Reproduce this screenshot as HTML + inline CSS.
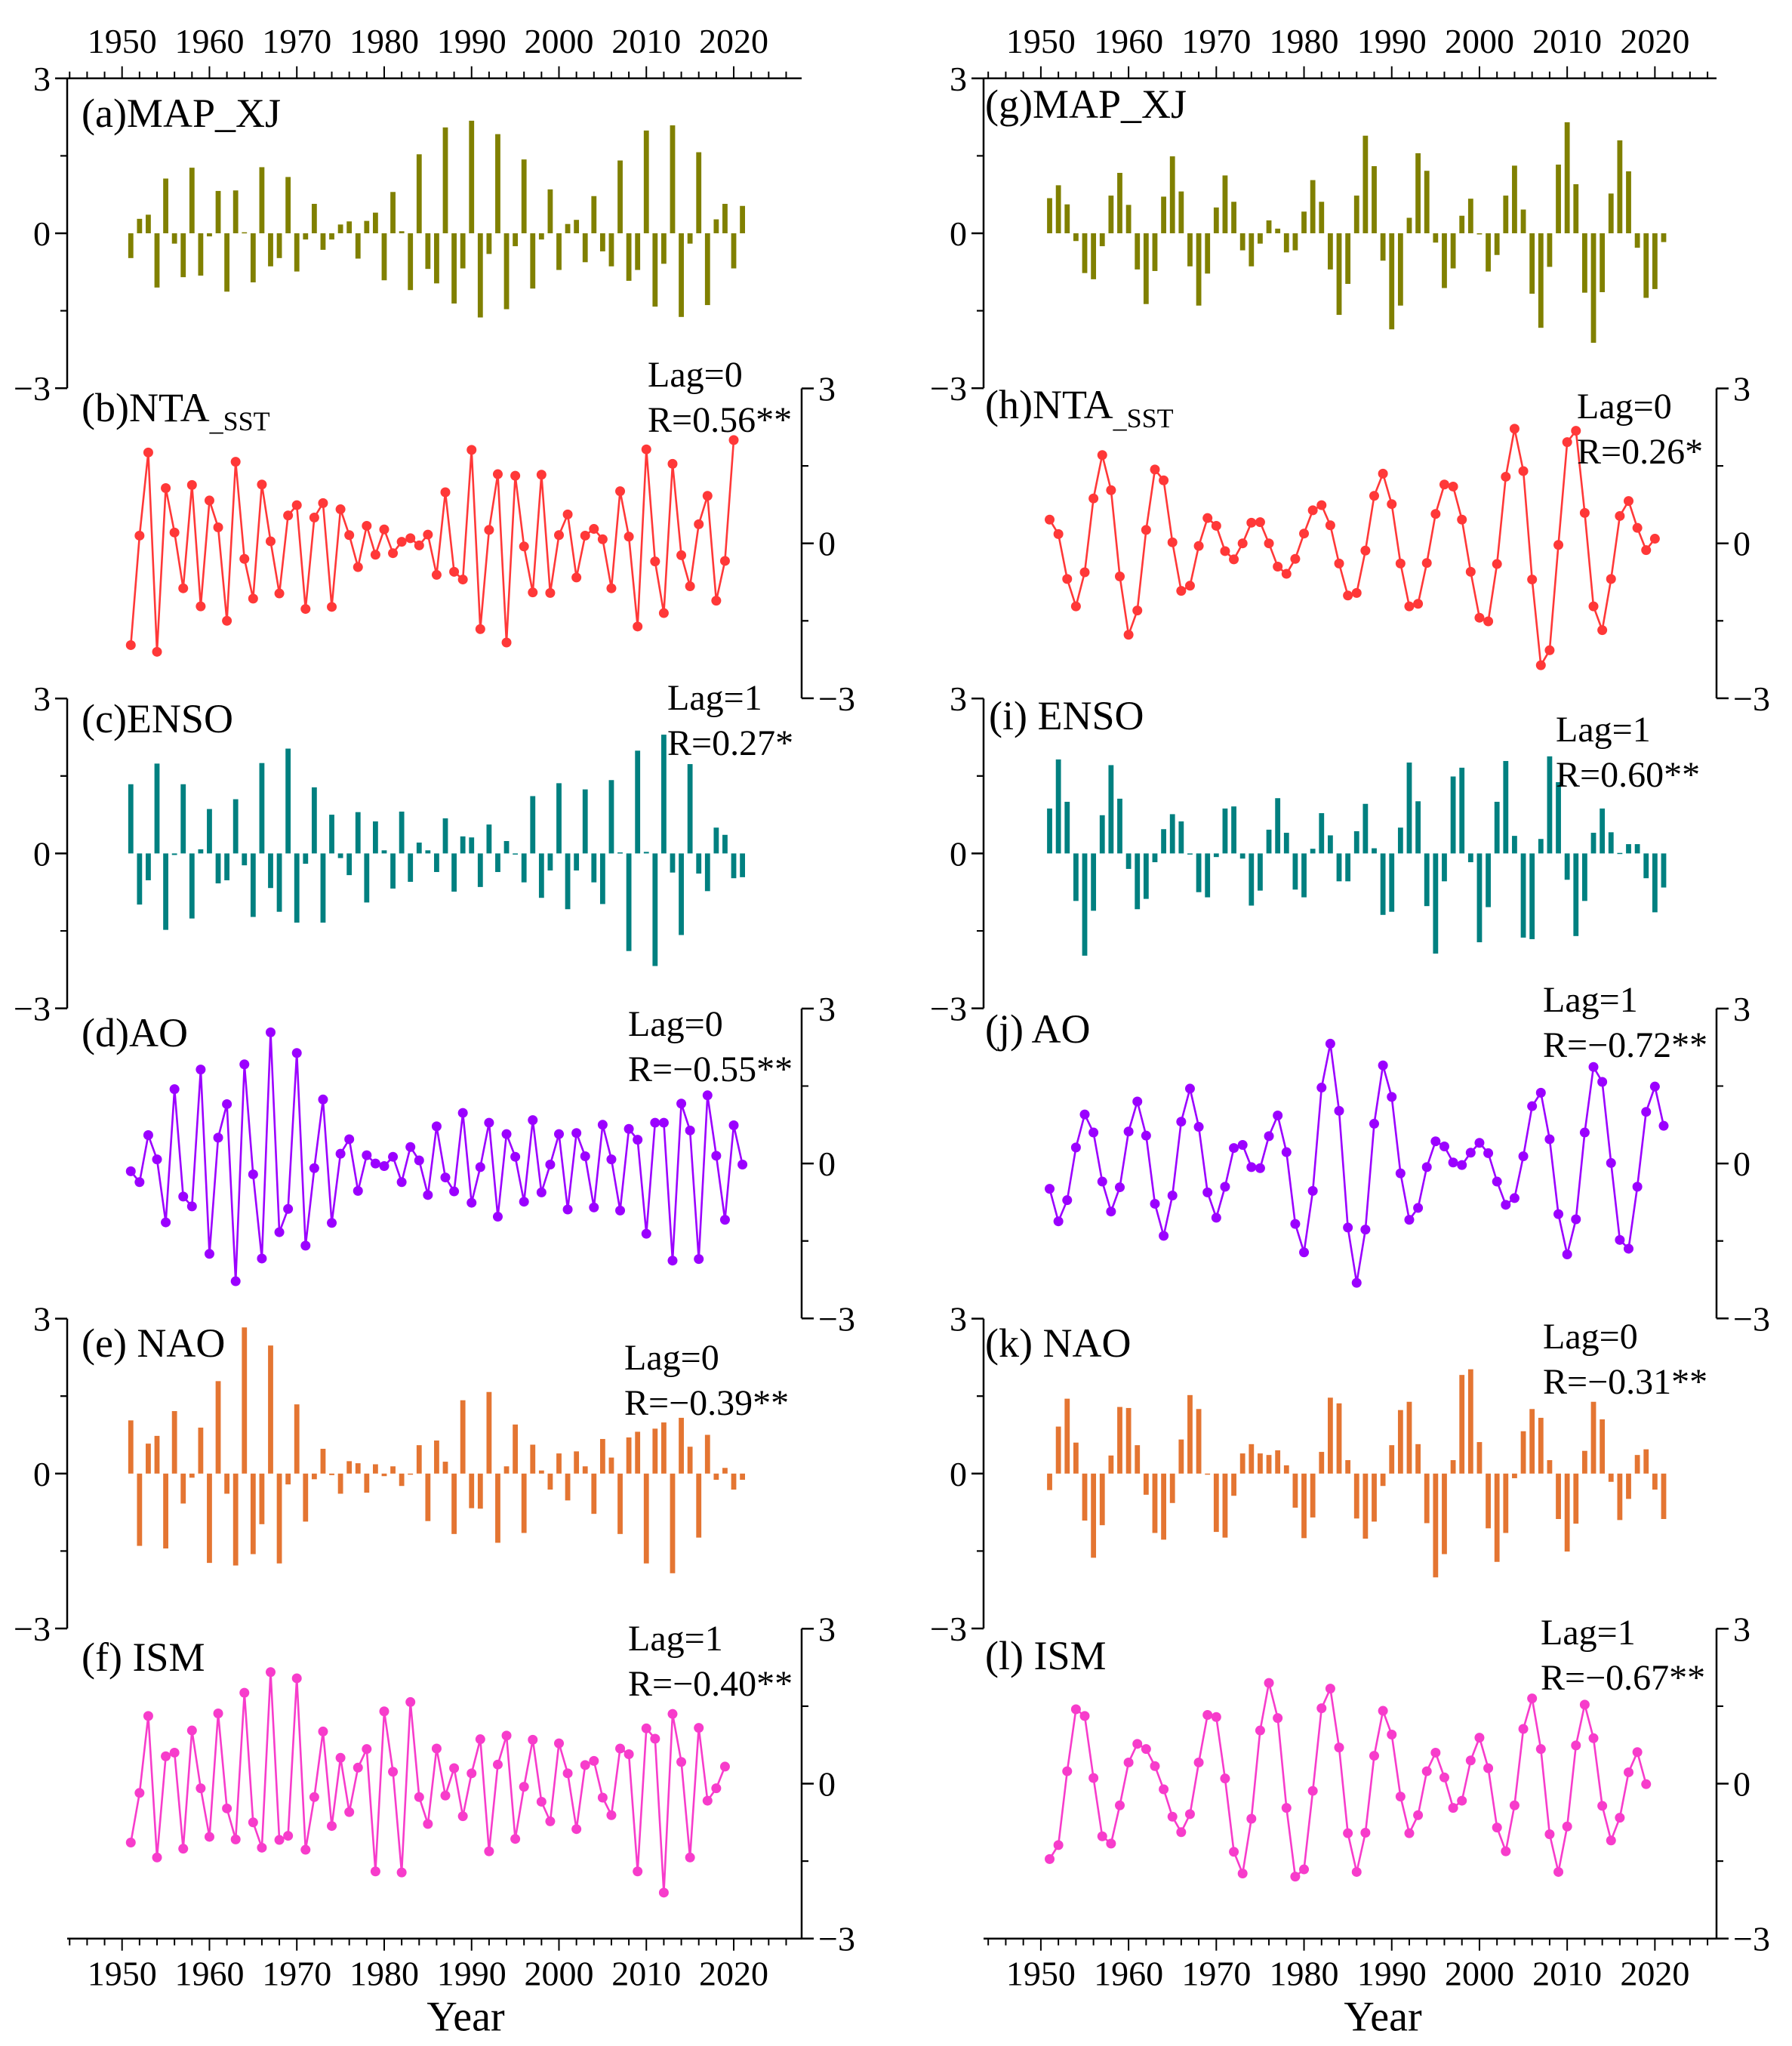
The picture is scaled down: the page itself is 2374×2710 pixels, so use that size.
<!DOCTYPE html>
<html><head><meta charset="utf-8"><title>Climate indices time series</title>
<style>html,body{margin:0;padding:0;background:#fff}svg{display:block;font-family:"Liberation Serif",serif}</style>
</head><body>
<svg id="fig" xmlns="http://www.w3.org/2000/svg" width="2374" height="2710" viewBox="0 0 2374 2710"></svg>
<script>
// ---- data (years start 1951) ----
const mapLeft=[-0.48,0.28,0.36,-1.05,1.06,-0.2,-0.85,1.27,-0.82,-0.06,0.82,-1.13,0.83,0.02,-0.95,1.28,-0.64,-0.48,1.09,-0.74,-0.12,0.57,-0.32,-0.12,0.17,0.23,-0.49,0.24,0.4,-0.91,0.8,0.04,-1.1,1.53,-0.69,-0.97,2.05,-1.36,-0.68,2.18,-1.63,-0.4,1.92,-1.47,-0.25,1.43,-1.07,-0.12,0.85,-0.71,0.18,0.26,-0.56,0.72,-0.35,-0.64,1.41,-0.92,-0.71,1.99,-1.42,-0.59,2.09,-1.62,-0.2,1.57,-1.39,0.27,0.57,-0.68,0.53];
const ntaLeft=[-1.97,0.15,1.76,-2.10,1.07,0.21,-0.87,1.13,-1.22,0.83,0.31,-1.50,1.58,-0.30,-1.07,1.14,0.04,-0.97,0.54,0.74,-1.27,0.50,0.78,-1.23,0.66,0.16,-0.46,0.34,-0.22,0.27,-0.19,0.03,0.10,-0.04,0.17,-0.61,0.99,-0.55,-0.70,1.81,-1.66,0.26,1.34,-1.92,1.31,-0.06,-0.95,1.33,-0.96,0.16,0.56,-0.66,0.15,0.28,0.08,-0.87,1.01,0.13,-1.61,1.82,-0.35,-1.35,1.54,-0.23,-0.83,0.37,0.92,-1.11,-0.34,2.0];
const ensoLeft=[1.34,-0.99,-0.52,1.74,-1.48,-0.03,1.34,-1.26,0.08,0.86,-0.58,-0.52,1.05,-0.23,-1.23,1.75,-0.67,-1.13,2.03,-1.34,-0.2,1.28,-1.34,0.75,-0.09,-0.42,0.8,-0.95,0.62,0.06,-0.68,0.81,-0.55,0.21,0.06,-0.36,0.68,-0.74,0.33,0.31,-0.65,0.56,-0.36,0.24,-0.02,-0.56,1.11,-0.86,-0.33,1.36,-1.08,-0.33,1.24,-0.56,-0.98,1.42,0.02,-1.89,1.99,0.03,-2.18,2.3,-0.37,-1.58,1.73,-0.39,-0.73,0.5,0.36,-0.48,-0.46];
const aoLeft=[-0.15,-0.36,0.55,0.08,-1.14,1.44,-0.64,-0.83,1.82,-1.75,0.50,1.15,-2.28,1.92,-0.21,-1.84,2.54,-1.33,-0.88,2.14,-1.59,-0.09,1.24,-1.15,0.19,0.47,-0.53,0.16,0.0,-0.05,0.13,-0.36,0.32,0.06,-0.61,0.72,-0.27,-0.54,0.98,-0.76,-0.07,0.79,-1.03,0.57,0.13,-0.74,0.84,-0.56,-0.02,0.57,-0.89,0.59,0.14,-0.85,0.75,0.08,-0.91,0.67,0.46,-1.36,0.79,0.79,-1.88,1.16,0.64,-1.85,1.32,0.15,-1.09,0.74,-0.02];
const naoLeft=[1.03,-1.4,0.58,0.73,-1.45,1.21,-0.58,-0.08,0.89,-1.73,1.79,-0.39,-1.78,2.83,-1.56,-0.98,2.48,-1.74,-0.21,1.34,-0.93,-0.11,0.48,-0.03,-0.39,0.24,0.2,-0.37,0.18,-0.05,0.14,-0.24,-0.01,0.55,-0.92,0.64,0.23,-1.17,1.42,-0.67,-0.68,1.58,-1.34,0.14,0.95,-1.15,0.56,0.06,-0.31,0.39,-0.52,0.43,0.14,-0.78,0.67,0.31,-1.17,0.7,0.81,-1.74,0.87,0.99,-1.93,1.08,0.52,-1.24,0.75,-0.12,0.11,-0.31,-0.12];
const ismLeft=[-1.14,-0.18,1.31,-1.43,0.53,0.60,-1.26,1.03,-0.09,-1.03,1.36,-0.48,-1.08,1.76,-0.75,-1.24,2.16,-1.09,-1.01,2.04,-1.28,-0.26,1.01,-0.82,0.50,-0.55,0.31,0.67,-1.70,1.40,0.23,-1.72,1.58,-0.26,-0.78,0.68,-0.23,0.30,-0.63,0.20,0.86,-1.31,0.37,0.93,-1.07,-0.06,0.85,-0.35,-0.73,0.78,0.20,-0.88,0.36,0.44,-0.27,-0.61,0.68,0.57,-1.70,1.07,0.87,-2.11,1.35,0.42,-1.43,1.08,-0.33,-0.09,0.33];
const mapRight=[0.68,0.93,0.56,-0.15,-0.77,-0.89,-0.25,0.73,1.17,0.55,-0.7,-1.37,-0.73,0.71,1.49,0.81,-0.64,-1.4,-0.78,0.5,1.12,0.61,-0.33,-0.64,-0.2,0.25,0.09,-0.37,-0.33,0.42,1.03,0.61,-0.7,-1.58,-0.98,0.73,1.89,1.3,-0.53,-1.86,-1.4,0.3,1.55,1.21,-0.18,-1.06,-0.68,0.34,0.67,-0.01,-0.74,-0.42,0.73,1.31,0.46,-1.17,-1.83,-0.65,1.33,2.15,0.95,-1.15,-2.12,-1.14,0.77,1.8,1.2,-0.28,-1.25,-1.08,-0.17];
const ntaRight=[0.46,0.18,-0.69,-1.22,-0.56,0.87,1.71,1.03,-0.64,-1.77,-1.30,0.26,1.43,1.22,0.02,-0.92,-0.82,-0.05,0.49,0.34,-0.15,-0.31,0.0,0.40,0.41,0.0,-0.45,-0.59,-0.30,0.19,0.64,0.74,0.35,-0.39,-1.01,-0.96,-0.14,0.92,1.35,0.76,-0.39,-1.22,-1.17,-0.38,0.57,1.14,1.10,0.46,-0.55,-1.44,-1.51,-0.40,1.29,2.22,1.40,-0.70,-2.36,-2.07,-0.03,1.96,2.18,0.59,-1.22,-1.68,-0.69,0.53,0.82,0.30,-0.13,0.09];
const ensoRight=[0.87,1.82,1.0,-0.92,-1.98,-1.11,0.74,1.71,1.06,-0.3,-1.08,-0.88,-0.17,0.47,0.76,0.62,-0.02,-0.75,-0.85,-0.07,0.87,0.91,-0.1,-1.01,-0.72,0.46,1.07,0.4,-0.7,-0.85,0.09,0.78,0.35,-0.54,-0.54,0.43,0.96,0.1,-1.19,-1.13,0.5,1.76,1.01,-1.02,-1.94,-0.54,1.49,1.66,-0.17,-1.72,-1.04,1.0,1.79,0.34,-1.63,-1.66,0.28,1.88,1.38,-0.51,-1.6,-0.92,0.4,0.87,0.41,0.01,0.18,0.18,-0.48,-1.14,-0.66];
const aoRight=[-0.49,-1.12,-0.71,0.31,0.95,0.60,-0.35,-0.93,-0.46,0.62,1.20,0.54,-0.78,-1.40,-0.62,0.81,1.45,0.71,-0.56,-1.05,-0.45,0.30,0.36,-0.07,-0.09,0.53,0.93,0.22,-1.17,-1.72,-0.53,1.47,2.32,1.02,-1.24,-2.31,-1.28,0.77,1.90,1.29,-0.19,-1.09,-0.86,-0.07,0.43,0.33,0.02,-0.03,0.21,0.40,0.20,-0.35,-0.80,-0.67,0.14,1.11,1.37,0.47,-0.98,-1.76,-1.08,0.60,1.87,1.58,0.01,-1.48,-1.65,-0.45,1.00,1.49,0.73];
const naoRight=[-0.32,0.91,1.45,0.6,-0.91,-1.63,-1.0,0.35,1.29,1.27,0.55,-0.41,-1.15,-1.28,-0.57,0.66,1.52,1.25,0.0,-1.13,-1.24,-0.43,0.39,0.57,0.39,0.36,0.45,0.16,-0.66,-1.25,-0.85,0.42,1.47,1.36,0.26,-0.87,-1.26,-0.93,-0.24,0.55,1.23,1.39,0.57,-0.96,-2.01,-1.56,0.26,1.91,2.02,0.61,-1.06,-1.71,-1.15,-0.09,0.82,1.25,1.08,0.26,-0.88,-1.51,-0.97,0.44,1.39,1.05,-0.16,-0.9,-0.49,0.36,0.47,-0.31,-0.88];
const ismRight=[-1.46,-1.19,0.24,1.44,1.31,0.11,-1.02,-1.16,-0.42,0.41,0.77,0.67,0.34,-0.11,-0.64,-0.94,-0.59,0.41,1.33,1.29,0.10,-1.32,-1.74,-0.68,1.03,1.95,1.27,-0.47,-1.80,-1.66,-0.14,1.46,1.84,0.70,-0.96,-1.71,-0.95,0.54,1.41,0.95,-0.25,-0.96,-0.61,0.24,0.60,0.12,-0.47,-0.33,0.45,0.89,0.30,-0.85,-1.31,-0.42,1.06,1.65,0.67,-0.98,-1.71,-0.83,0.74,1.53,0.88,-0.43,-1.10,-0.66,0.22,0.61,-0.01];
const decadeTicks=[1950,1960,1970,1980,1990,2000,2010,2020];
const yTickLabels=["3","0","\u22123"];
const yTickValues=[3,0,-3];

const NS="http://www.w3.org/2000/svg";
const svg=document.getElementById('fig');
function mk(tag,attrs,parent){const e=document.createElementNS(NS,tag);for(const k in attrs)e.setAttribute(k,attrs[k]);(parent||svg).appendChild(e);return e;}
const cols=[
 {x0:89,x1:1062,y1950:161.7,pxYr:11.576,yearX:617},
 {x0:1303,x1:2274,y1950:1378.9,pxYr:11.621,yearX:1832}
];
const Z0=309,STEP=410.7,UNIT=68.4;
function xScale(c,year){return c.y1950+(year-1950)*c.pxYr;}
function yScale(p,v){return Z0+p*STEP-v*UNIT;}

const panels=[
 {col:0,row:0,id:'a',name:'MAP_XJ',type:'bar',color:'#808000',data:mapLeft},
 {col:0,row:1,id:'b',name:'NTA',sub:'_SST',type:'line',color:'#FF3838',data:ntaLeft,lag:'Lag=0',r:'R=0.56**',lx:858,ly:512},
 {col:0,row:2,id:'c',name:'ENSO',type:'bar',color:'#008080',data:ensoLeft,lag:'Lag=1',r:'R=0.27*',lx:884,ly:940},
 {col:0,row:3,id:'d',name:'AO',type:'line',color:'#9B00FF',data:aoLeft,lag:'Lag=0',r:'R=\u22120.55**',lx:832,ly:1372},
 {col:0,row:4,id:'e',name:'NAO',sp:true,type:'bar',color:'#E47532',data:naoLeft,lag:'Lag=0',r:'R=\u22120.39**',lx:827,ly:1814},
 {col:0,row:5,id:'f',name:'ISM',sp:true,type:'line',color:'#F73CCB',data:ismLeft,lag:'Lag=1',r:'R=\u22120.40**',lx:832,ly:2186},
 {col:1,row:0,id:'g',name:'MAP_XJ',type:'bar',color:'#808000',data:mapRight},
 {col:1,row:1,id:'h',name:'NTA',sub:'_SST',type:'line',color:'#FF3838',data:ntaRight,lag:'Lag=0',r:'R=0.26*',lx:2089,ly:554},
 {col:1,row:2,id:'i',name:'ENSO',sp:true,type:'bar',color:'#008080',data:ensoRight,lag:'Lag=1',r:'R=0.60**',lx:2061,ly:982},
 {col:1,row:3,id:'j',name:'AO',sp:true,type:'line',color:'#9B00FF',data:aoRight,lag:'Lag=1',r:'R=\u22120.72**',lx:2044,ly:1340},
 {col:1,row:4,id:'k',name:'NAO',sp:true,type:'bar',color:'#E47532',data:naoRight,lag:'Lag=0',r:'R=\u22120.31**',lx:2044,ly:1786},
 {col:1,row:5,id:'l',name:'ISM',sp:true,type:'line',color:'#F73CCB',data:ismRight,lag:'Lag=1',r:'R=\u22120.67**',lx:2041,ly:2178}
];
const labelPos={a:[108,168],b:[108,558],c:[108,970],d:[108,1386],e:[108,1797],f:[108,2213],g:[1305,156],h:[1305,554],i:[1310,966],j:[1305,1381],k:[1305,1797],l:[1305,2211]};

panels.forEach(P=>{
  const c=cols[P.col];
  const g=mk('g',{});
  
  
  const top=yScale(P.row,3),bot=yScale(P.row,-3),zero=yScale(P.row,0);
  const ax=mk('g',{},g);
  
  
  const isBar=P.type==='bar';
  const axX=isBar?c.x0:c.x1;
  const sp=mk('line',{x1:axX,x2:axX,y1:top,y2:bot,stroke:'#000','stroke-width':2.5},ax);
  
  
  yTickValues.forEach((v,i)=>{
    const y=yScale(P.row,v);
    const dir=isBar?-1:1;
    const t=mk('line',{x1:axX,x2:axX+dir*16,y1:y,y2:y,stroke:'#000','stroke-width':2.5},ax);
    
    
    for(const mv of [v+1.5,v-1.5]){ if(mv<=3&&mv>=-3){const my=yScale(P.row,mv);const m=mk('line',{x1:axX,x2:axX+dir*9,y1:my,y2:my,stroke:'#000','stroke-width':2},ax);}}
    const tx=mk('text',{x:isBar?axX-22:axX+22,y:y+16,'font-size':46,'text-anchor':isBar?'end':'start',fill:'#000'},ax);
    tx.textContent=yTickLabels[i];
    
    
  });
  const years=P.data.map((v,i)=>1951+i);
  if(isBar){
    P.data.forEach((v,i)=>{
      const x=xScale(c,years[i]);
      const y=yScale(P.row,Math.max(v,0)),h=Math.abs(yScale(P.row,v)-zero);
      const r=mk('rect',{x:x-3.4,y:y,width:6.8,height:Math.max(h,1.5),fill:P.color},g);
      
      
    });
  } else {
    const pts=P.data.map((v,i)=>xScale(c,years[i]).toFixed(1)+','+yScale(P.row,v).toFixed(1)).join(' ');
    const pl=mk('polyline',{points:pts,fill:'none',stroke:P.color,'stroke-width':2.6},g);
    
    
    P.data.forEach((v,i)=>{
      const ci=mk('circle',{cx:xScale(c,years[i]),cy:yScale(P.row,v),r:6.5,fill:P.color},g);
      
      
    });
  }
  const lp=labelPos[P.id];
  const lt=mk('text',{x:lp[0],y:lp[1],'font-size':54,fill:'#000'},g);
  
  
  lt.textContent='('+P.id+')'+(P.sp?' ':'')+P.name;
  if(P.sub){const ts=mk('tspan',{'font-size':36,dy:12},lt);ts.textContent=P.sub;}
  if(P.lag){
    const t1=mk('text',{x:P.lx,y:P.ly,'font-size':48,fill:'#000'},g);
    t1.textContent=P.lag;
    
    
    const t2=mk('text',{x:P.lx,y:P.ly+60,'font-size':48,fill:'#000'},g);
    t2.textContent=P.r;
    
    
  }
});

cols.forEach((c,ci)=>{
  [[yScale(0,3),-1,'top'],[yScale(5,-3),1,'bottom']].forEach(([y,dir,pos])=>{
    const ag=mk('g',{});
    
    
    const l=mk('line',{x1:c.x0,x2:c.x1,y1:y,y2:y,stroke:'#000','stroke-width':2.5},ag);
    
    
    for(let yr=1944;yr<=2026;yr+=2){
      const x=xScale(c,yr); if(x<c.x0||x>c.x1)continue;
      const major=yr%10===0;
      const t=mk('line',{x1:x,x2:x,y1:y,y2:y+dir*(major?16:9),stroke:'#000','stroke-width':2},ag);
      
      
    }
    decadeTicks.forEach(yr=>{
      const tx=mk('text',{x:xScale(c,yr),y:pos==='top'?y-34:y+62,'font-size':46,'text-anchor':'middle',fill:'#000'},ag);
      tx.textContent=String(yr);
      
      
    });
    if(pos==='bottom'){
      const yt=mk('text',{x:c.yearX,y:y+122,'font-size':56,'text-anchor':'middle',fill:'#000'},ag);
      yt.textContent='Year';
      
      
    }
  });
});
</script>
</body></html>
